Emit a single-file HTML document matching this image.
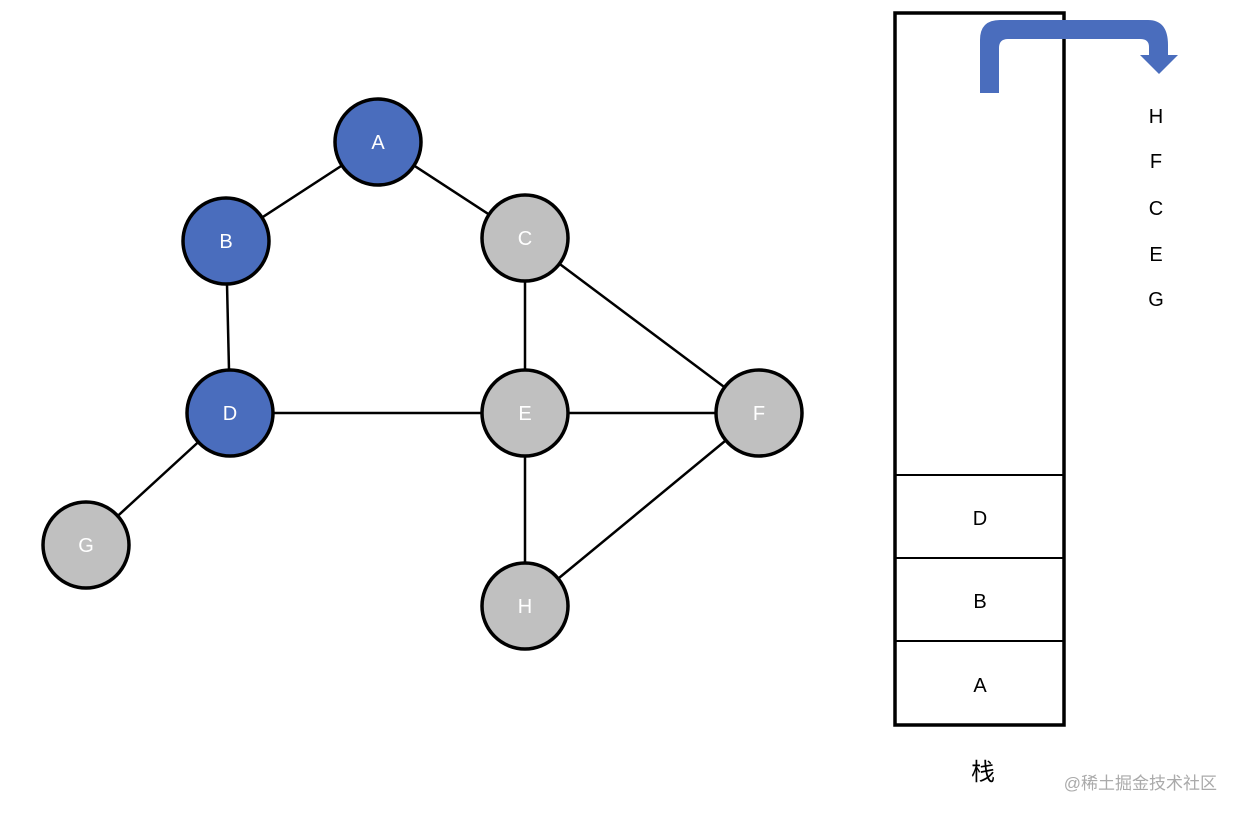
<!DOCTYPE html>
<html><head><meta charset="utf-8"><style>
body{margin:0;background:#fff;}
svg{display:block}
text{font-family:"Liberation Sans","Noto Sans CJK SC",sans-serif;}
</style></head><body>
<svg width="1240" height="815" viewBox="0 0 1240 815">
<g stroke="#000" stroke-width="2.5">
<line x1="378" y1="142" x2="226" y2="241"/>
<line x1="378" y1="142" x2="525" y2="238"/>
<line x1="226" y1="241" x2="230" y2="413"/>
<line x1="230" y1="413" x2="525" y2="413"/>
<line x1="230" y1="413" x2="86" y2="545"/>
<line x1="525" y1="238" x2="525" y2="606"/>
<line x1="525" y1="238" x2="759" y2="413"/>
<line x1="525" y1="413" x2="759" y2="413"/>
<line x1="759" y1="413" x2="525" y2="606"/>
</g>
<g stroke="#000" stroke-width="3.5">
<circle cx="378" cy="142" r="43" fill="#4a6dbd"/>
<circle cx="226" cy="241" r="43" fill="#4a6dbd"/>
<circle cx="230" cy="413" r="43" fill="#4a6dbd"/>
<circle cx="525" cy="238" r="43" fill="#c0c0c0"/>
<circle cx="525" cy="413" r="43" fill="#c0c0c0"/>
<circle cx="759" cy="413" r="43" fill="#c0c0c0"/>
<circle cx="86" cy="545" r="43" fill="#c0c0c0"/>
<circle cx="525" cy="606" r="43" fill="#c0c0c0"/>
</g>
<g fill="#fff" font-size="20" text-anchor="middle">
<text x="378" y="149">A</text><text x="226" y="248">B</text><text x="230" y="420">D</text>
<text x="525" y="245">C</text><text x="525" y="420">E</text><text x="759" y="420">F</text>
<text x="86" y="552">G</text><text x="525" y="613">H</text>
</g>
<rect x="895" y="13" width="169" height="712" fill="none" stroke="#000" stroke-width="3.5"/>
<g stroke="#000" stroke-width="2">
<line x1="895" y1="475" x2="1064" y2="475"/>
<line x1="895" y1="558" x2="1064" y2="558"/>
<line x1="895" y1="641" x2="1064" y2="641"/>
</g>
<path d="M980 93 L980 40 Q980 20 1000 20 L1148 20 Q1168 20 1168 45 L1168 55 L1178 55 L1159 74 L1140 55 L1149 55 L1149 47 Q1149 39 1140 39 L1008 39 Q999 39 999 48 L999 93 Z" fill="#4a6dbd"/>
<g fill="#000" font-size="20" text-anchor="middle">
<text x="980" y="525">D</text><text x="980" y="608">B</text><text x="980" y="692">A</text>
<text x="1156" y="123">H</text><text x="1156" y="168">F</text><text x="1156" y="215">C</text>
<text x="1156" y="261">E</text><text x="1156" y="306">G</text>
<text x="983" y="780" font-size="24">栈</text>
</g>
<text x="1217" y="789" text-anchor="end" font-size="17" fill="#aaa">@稀土掘金技术社区</text>
</svg>
</body></html>
